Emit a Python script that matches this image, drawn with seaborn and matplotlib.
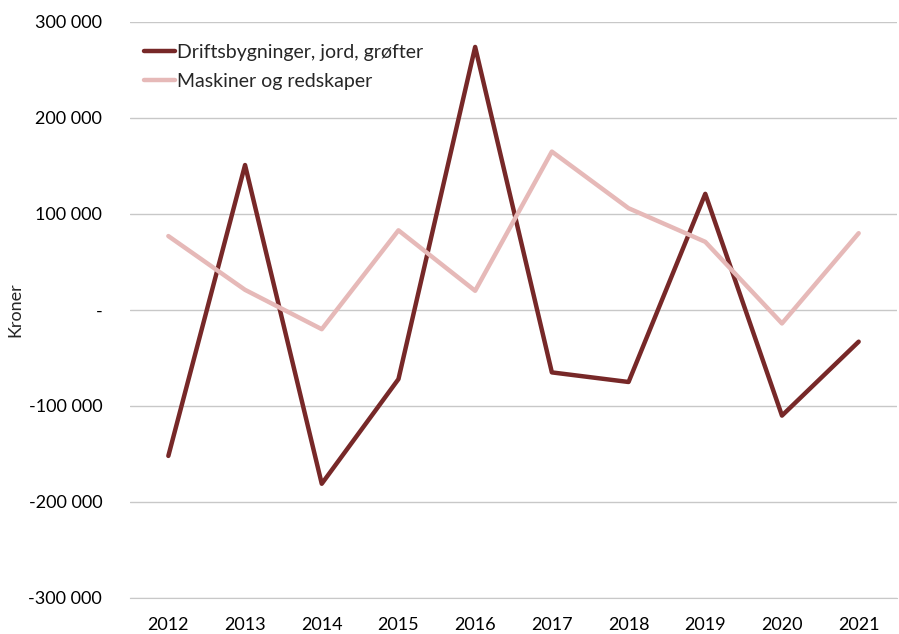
import matplotlib
matplotlib.use("Agg")
import matplotlib.pyplot as plt
import seaborn as sns
import pandas as pd
from matplotlib.ticker import FuncFormatter

years = ["2012", "2013", "2014", "2015", "2016", "2017", "2018", "2019", "2020", "2021"]
drift = [-152000, 151000, -181000, -72000, 274000, -65000, -75000, 121000, -110000, -33000]
maskiner = [77000, 21000, -20000, 83000, 20000, 165000, 106000, 71000, -14000, 80000]
series_names = ["Driftsbygninger, jord, grøfter", "Maskiner og redskaper"]
colors = ["#772828", "#e6b9b8"]

df = pd.DataFrame({"År": years * 2,
                   "Verdi": drift + maskiner,
                   "Serie": [series_names[0]] * len(years) + [series_names[1]] * len(years)})

sns.set_style("white")
plt.rcParams['font.family'] = ['Lato', 'DejaVu Sans']

fig = plt.figure(figsize=(8.99, 6.34), dpi=100)
ax = fig.add_axes([0.1446, 0.0568, 0.8532, 0.9085])

sns.lineplot(data=df, x="År", y="Verdi", hue="Serie", palette=colors, linewidth=3.2,
             sort=False, ax=ax)

ax.set_xlim(-0.5, 9.5)
ax.set_ylim(-300000, 300000)
ax.set_yticks(range(-300000, 300001, 100000))

def fmt(v, pos):
    if abs(v) < 1:
        return "-"
    s = f"{abs(int(v)):,}".replace(",", " ")
    return ("-" if v < 0 else "") + s

ax.yaxis.set_major_formatter(FuncFormatter(fmt))
ax.grid(axis="y", color="#c8c8c8", linewidth=1)
ax.set_axisbelow(True)
for s in ["top", "right", "left"]:
    ax.spines[s].set_visible(False)
ax.spines["bottom"].set_color("#c8c8c8")
ax.tick_params(axis="both", length=0, labelsize=13, colors="black")
ax.tick_params(axis="y", pad=20)
ax.tick_params(axis="x", pad=14)
ax.set_xlabel("")
ax.set_ylabel("Kroner", fontsize=13, labelpad=4)

leg = ax.legend(loc="upper left", frameon=False, fontsize=14, handlelength=1.6,
                handletextpad=0.1, labelspacing=0.6, bbox_to_anchor=(0.0, 0.985),
                borderaxespad=0.3)
for line in leg.get_lines():
    line.set_linewidth(3.2)

fig.savefig("out.png", dpi=100)
